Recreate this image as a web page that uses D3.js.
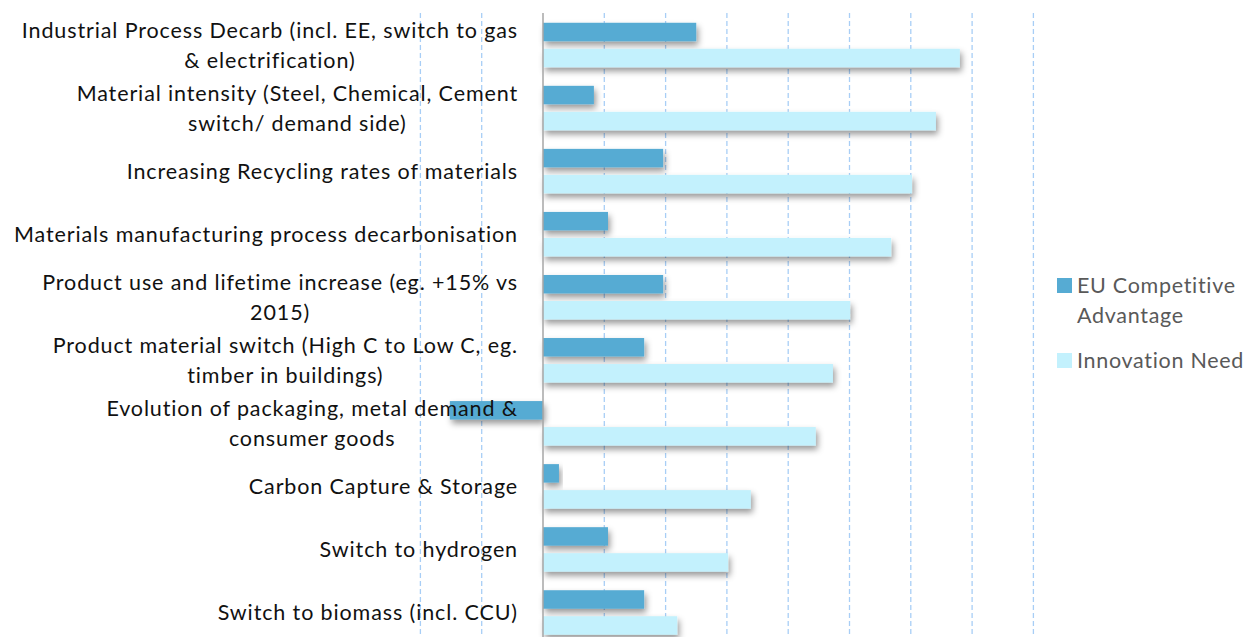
<!DOCTYPE html>
<html>
<head>
<meta charset="utf-8">
<script src="https://cdn.jsdelivr.net/npm/d3@7"></script>
<style>
  body { margin: 0; background: #fff; }
  svg { display: block; }
</style>
</head>
<body>
<svg id="chart" width="1248" height="637"></svg>
<script>
// categories (multi-line labels as shown)
const categories = [
  ["Industrial Process Decarb (incl. EE, switch to gas", "& electrification)"],
  ["Material intensity (Steel, Chemical, Cement", "switch/ demand side)"],
  ["Increasing Recycling rates of materials"],
  ["Materials manufacturing process decarbonisation"],
  ["Product use and lifetime increase (eg. +15% vs", "2015)"],
  ["Product material switch (High C to Low C, eg.", "timber in buildings)"],
  ["Evolution of packaging, metal demand &", "consumer goods"],
  ["Carbon Capture & Storage"],
  ["Switch to hydrogen"],
  ["Switch to biomass (incl. CCU)"]
];
const euAdvantage = [2.5, 0.83, 1.96, 1.06, 1.96, 1.65, -1.52, 0.26, 1.06, 1.65];
const innovationNeed = [6.8, 6.41, 6.02, 5.68, 5.01, 4.73, 4.45, 3.39, 3.02, 2.19];
const gridTicks = [-2, -1, 1, 2, 3, 4, 5, 6, 7, 8];
const seriesNames = [["EU Competitive", "Advantage"], ["Innovation Need"]];
const seriesColors = ["#56abd3", "#c3f1fd"];

const svg = d3.select("#chart");

// drop shadow like the office chart effect
const defs = svg.append("defs");
const f = defs.append("filter").attr("id", "shadow")
  .attr("x", "-10%").attr("y", "-40%").attr("width", "130%").attr("height", "220%");
f.append("feDropShadow").attr("dx", 2).attr("dy", 4).attr("stdDeviation", 3)
  .attr("flood-color", "#000").attr("flood-opacity", 0.4);

const x = d3.scaleLinear().domain([-2, 8]).range([420.4, 1033.4]);
const y = d3.scaleBand().domain(d3.range(categories.length)).range([13.5, 644]);

// dashed gridlines
svg.append("g").selectAll("line").data(gridTicks).join("line")
  .attr("x1", d => x(d)).attr("x2", d => x(d))
  .attr("y1", 13).attr("y2", 637)
  .attr("stroke", "#a8cef6").attr("stroke-width", 1.3)
  .attr("stroke-dasharray", "5,3");

const barH = 18.5, gap = 7.5;
const bars = svg.append("g");
bars.selectAll("rect.eu").data(euAdvantage).join("rect")
  .attr("class", "eu")
  .attr("x", d => x(Math.min(0, d)))
  .attr("width", d => Math.abs(x(d) - x(0)))
  .attr("y", (d, i) => y(i) + y.bandwidth() / 2 - barH - gap / 2)
  .attr("height", barH)
  .attr("fill", seriesColors[0])
  .attr("filter", "url(#shadow)");
bars.selectAll("rect.inn").data(innovationNeed).join("rect")
  .attr("class", "inn")
  .attr("x", d => x(Math.min(0, d)))
  .attr("width", d => Math.abs(x(d) - x(0)))
  .attr("y", (d, i) => y(i) + y.bandwidth() / 2 + gap / 2)
  .attr("height", barH)
  .attr("fill", seriesColors[1])
  .attr("filter", "url(#shadow)");

// vertical axis line
svg.append("line")
  .attr("x1", x(0)).attr("x2", x(0)).attr("y1", 13).attr("y2", 637)
  .attr("stroke", "#a6a6a6").attr("stroke-width", 1.5);

// category labels: block right-aligned, lines centered within block
const fontFam = "Lato, 'Open Sans', sans-serif";
const fontSize = 21.5;
const lineH = 30;
const labelRight = 518;
const lg = svg.append("g");
categories.forEach((lines, i) => {
  const g = lg.append("g");
  const cy = y(i) + y.bandwidth() / 2;
  const texts = lines.map((t, j) => g.append("text")
    .attr("font-family", fontFam).attr("font-size", fontSize)
    .attr("letter-spacing", 0.88)
    .attr("fill", "#111")
    .attr("text-anchor", "middle")
    .attr("y", cy - (lines.length - 1) * lineH / 2 + j * lineH + 7.5)
    .text(t));
  const w = d3.max(texts, t => t.node().getComputedTextLength());
  texts.forEach(t => t.attr("x", labelRight - w / 2));
});

// legend
const leg = svg.append("g").attr("font-family", fontFam).attr("font-size", fontSize)
  .attr("letter-spacing", 0.7).attr("fill", "#595959");
const legY = [278, 353];
seriesNames.forEach((lines, i) => {
  leg.append("rect").attr("x", 1057).attr("y", legY[i]).attr("width", 15).attr("height", 15)
    .attr("fill", seriesColors[i]);
  lines.forEach((t, j) => leg.append("text")
    .attr("x", 1077).attr("y", legY[i] + 15 + j * 30).text(t));
});
</script>
</body>
</html>
